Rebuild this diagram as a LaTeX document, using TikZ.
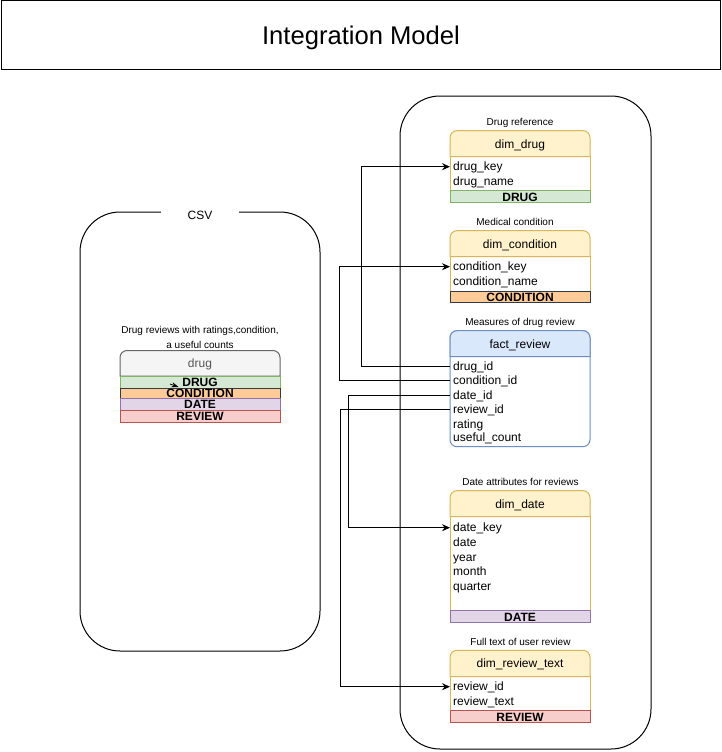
\documentclass[tikz,border=0pt]{standalone}
\usepackage{fontspec}
\setmainfont{Liberation Sans}
\usetikzlibrary{arrows.meta}
\definecolor{yelF}{HTML}{FFF2CC}\definecolor{yelS}{HTML}{D6B656}
\definecolor{grnF}{HTML}{D5E8D4}\definecolor{grnS}{HTML}{82B366}
\definecolor{orgF}{HTML}{FFCC99}\definecolor{orgS}{HTML}{36393D}
\definecolor{purF}{HTML}{E1D5E7}\definecolor{purS}{HTML}{9673A6}
\definecolor{redF}{HTML}{F8CECC}\definecolor{redS}{HTML}{B85450}
\definecolor{bluF}{HTML}{DAE8FC}\definecolor{bluS}{HTML}{6C8EBF}
\definecolor{gryF}{HTML}{F5F5F5}\definecolor{gryS}{HTML}{666666}
\definecolor{gryT}{HTML}{555555}
\newcommand\mytophdr[6]{%
  \filldraw[fill=#5, draw=#6, line width=1pt] (#1,-#4) -- (#1,-#2-7)
    arc[start angle=180,end angle=90,radius=7] -- (#3-7,-#2)
    arc[start angle=90,end angle=0,radius=7] -- (#3,-#4) -- cycle;}
\tikzset{
  lbl/.style={font=\fontsize{10}{12}\selectfont, inner sep=0pt, text height=7pt, text depth=0pt},
  rowtxt/.style={anchor=west, inner xsep=3pt, inner ysep=0pt, font=\fontsize{12}{14}\selectfont, text height=8pt, text depth=0pt},
  hdr/.style={font=\fontsize{12}{14}\selectfont, inner sep=0pt, text height=8pt, text depth=0pt},
  bandtxt/.style={font=\bfseries\fontsize{12}{14}\selectfont, inner sep=0pt, text height=8.6pt, text depth=0pt},
  conn/.style={draw=black, line width=1pt, -{Stealth[length=8pt,width=7pt]}},
  outline/.style={draw=black, line width=1pt},
}
\begin{document}
\begin{tikzpicture}[x=1pt,y=1pt]
\useasboundingbox (0,0) rectangle (721,-752);
\fill[white] (0,0) rectangle (721,-752);

% title
\draw[outline] (1,-1) rectangle (720,-70);
\node[inner sep=0pt, font=\fontsize{25.6}{30}\selectfont, text height=18pt, text depth=0pt] (title) at (361,-36) {Integration Model};

% containers
\draw[outline, rounded corners=40pt] (80,-212) rectangle (320,-651);
\node[fill=white, minimum width=78pt, minimum height=10pt, inner sep=0pt, font=\fontsize{12}{14}\selectfont, text height=8pt, text depth=0pt] (csvlbl) at (200,-215) {CSV};
\draw[outline, rounded corners=40pt] (400,-96) rectangle (651,-749);

% CSV content
\node[lbl] (csvd1) at (200,-330) {Drug reviews with ratings,condition,};
\node[lbl] (csvd2) at (200,-345) {a useful counts};
\mytophdr{120}{350.5}{280}{376}{gryF}{gryS}
\node[hdr, text=gryT] (csvhdr) at (200,-363.3) {drug};
\filldraw[fill=grnF, draw=grnS, line width=1pt] (120,-376) rectangle (280,-388);
\filldraw[fill=orgF, draw=orgS, line width=1pt] (120,-388) rectangle (280,-398.3);
\filldraw[fill=purF, draw=purS, line width=1pt] (120,-398.3) rectangle (280,-410.3);
\filldraw[fill=redF, draw=redS, line width=1pt] (120,-410.3) rectangle (280,-422.3);
\node[bandtxt] (csvdrug) at (200,-382.3) {DRUG};
\node[bandtxt] (csvcond) at (200,-393) {CONDITION};
\node[bandtxt] (csvdate) at (200,-404) {DATE};
\node[bandtxt] (csvrev) at (200,-416) {REVIEW};
\coordinate (ta) at (170,-384);
\coordinate (tb) at (178.5,-387);
\draw[line width=0.8pt, -{Stealth[length=7pt,width=5pt]}] (ta) -- (tb);

% dim_drug
\node[lbl] (l1) at (520,-122) {Drug reference};
\filldraw[fill=white, draw=yelS, line width=1pt] (450,-156.7) rectangle (590,-190.7);
\mytophdr{450}{130.7}{590}{156.7}{yelF}{yelS}
\filldraw[fill=grnF, draw=grnS, line width=1pt] (450,-190.7) rectangle (590,-202.3);
\node[hdr] (ddh) at (520,-144) {dim\_drug};
\node[rowtxt] (ddkey) at (450,-166.7) {drug\_key};
\node[rowtxt] (ddname) at (450,-181.7) {drug\_name};
\node[bandtxt] (ddband) at (520,-196.7) {DRUG};

% dim_condition
\node[lbl] (l2) at (515,-222) {Medical condition};
\filldraw[fill=white, draw=yelS, line width=1pt] (450,-256.7) rectangle (590,-291);
\mytophdr{450}{230.7}{590}{256.7}{yelF}{yelS}
\filldraw[fill=orgF, draw=orgS, line width=1pt] (450,-291) rectangle (590,-302.3);
\node[hdr] (dch) at (520,-244) {dim\_condition};
\node[rowtxt] (dckey) at (450,-266.7) {condition\_key};
\node[rowtxt] (dcname) at (450,-281.7) {condition\_name};
\node[bandtxt] (dcband) at (520,-296.7) {CONDITION};

% fact_review
\node[lbl] (l3) at (520,-322.3) {Measures of drug review};
\filldraw[fill=white, draw=bluS, line width=1pt, rounded corners=7pt] (450,-330.7) rectangle (590,-446.7);
\mytophdr{450}{330.7}{590}{356.7}{bluF}{bluS}
\node[hdr] (frh) at (520,-344) {fact\_review};
\node[rowtxt] (frdrug) at (450,-366) {drug\_id};
\node[rowtxt] (frcond) at (450,-380.7) {condition\_id};
\node[rowtxt] (frdate) at (450,-395) {date\_id};
\node[rowtxt] (frrev) at (450,-409.3) {review\_id};
\node[rowtxt] (frrate) at (450,-424) {rating};
\node[rowtxt] (frused) at (450,-437.7) {useful\_count};

% dim_date
\node[lbl] (l4) at (520.5,-482.3) {Date attributes for reviews};
\filldraw[fill=white, draw=yelS, line width=1pt] (450,-516.7) rectangle (590,-610.3);
\mytophdr{450}{490.7}{590}{516.7}{yelF}{yelS}
\filldraw[fill=purF, draw=purS, line width=1pt] (450,-610.3) rectangle (590,-622.3);
\node[hdr] (dth) at (520,-504) {dim\_date};
\node[rowtxt] (dtkey) at (450,-527.7) {date\_key};
\node[rowtxt] (dtdate) at (450,-542.7) {date};
\node[rowtxt] (dtyear) at (450,-557) {year};
\node[rowtxt] (dtmonth) at (450,-571.3) {month};
\node[rowtxt] (dtq) at (450,-586) {quarter};
\node[bandtxt] (dtband) at (520,-616.7) {DATE};

% dim_review_text
\node[lbl] (l5) at (520.5,-641.7) {Full text of user review};
\filldraw[fill=white, draw=yelS, line width=1pt] (450,-676.7) rectangle (590,-710);
\mytophdr{450}{650.3}{590}{676.7}{yelF}{yelS}
\filldraw[fill=redF, draw=redS, line width=1pt] (450,-710) rectangle (590,-722.3);
\node[hdr] (drh) at (520,-663.3) {dim\_review\_text};
\node[rowtxt] (drid) at (450,-686.7) {review\_id};
\node[rowtxt] (drtext) at (450,-701.3) {review\_text};
\node[bandtxt] (drband) at (520,-716.7) {REVIEW};

% connectors
\draw[conn] (frdrug.west) -- ++(-89,0) |- (ddkey.west);
\draw[conn] (frcond.west) -- ++(-110.5,0) |- (dckey.west);
\draw[conn] (frdate.west) -- ++(-102,0) |- (dtkey.west);
\draw[conn] (frrev.west) -- ++(-110,0) |- (drid.west);
\end{tikzpicture}
\end{document}
